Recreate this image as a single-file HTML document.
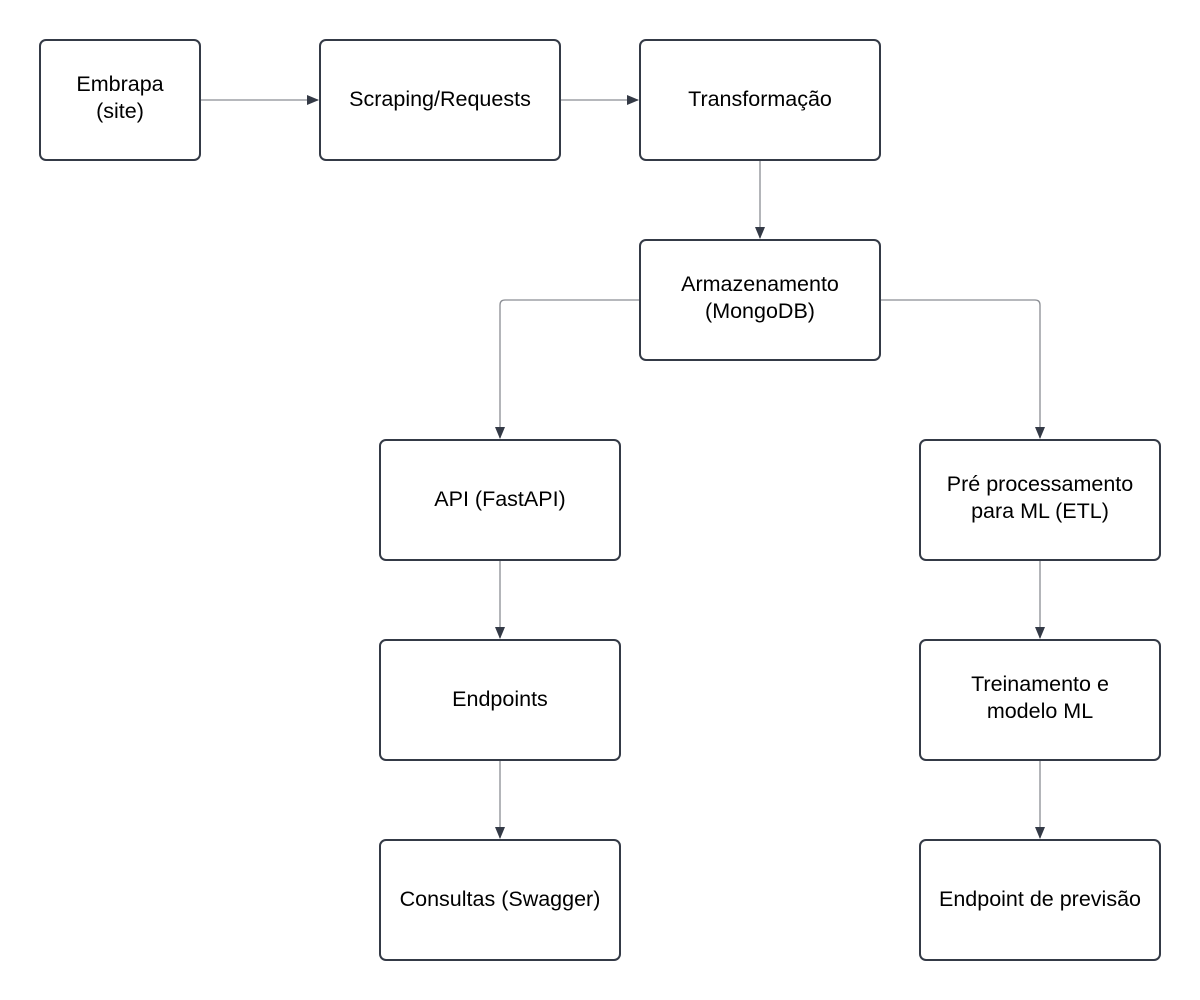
<!DOCTYPE html>
<html><head><meta charset="utf-8"><style>body{margin:0;background:#fff}svg{display:block}</style></head>
<body>
<svg width="1200" height="1000" xmlns="http://www.w3.org/2000/svg" font-family="Liberation Sans, Arial, sans-serif" font-size="21.5" fill="#000">
<defs><marker id="a" markerWidth="12" markerHeight="12" refX="11" refY="5" orient="auto" markerUnits="userSpaceOnUse"><path d="M0,0 L12,5 L0,10 Z" fill="#343a46"/></marker></defs>
<g fill="none" stroke="#8a8d93" stroke-width="1.3">
<path d="M201,100 H318" marker-end="url(#a)"/>
<path d="M561,100 H638" marker-end="url(#a)"/>
<path d="M760,161 V238" marker-end="url(#a)"/>
<path d="M639,300 H505 Q500,300 500,305 V438" marker-end="url(#a)"/>
<path d="M881,300 H1035 Q1040,300 1040,305 V438" marker-end="url(#a)"/>
<path d="M500,561 V638" marker-end="url(#a)"/>
<path d="M500,761 V838" marker-end="url(#a)"/>
<path d="M1040,561 V638" marker-end="url(#a)"/>
<path d="M1040,761 V838" marker-end="url(#a)"/>
</g>
<g fill="#fff" stroke="#343a46" stroke-width="2">
<rect x="40" y="40" width="160" height="120" rx="6"/>
<rect x="320" y="40" width="240" height="120" rx="6"/>
<rect x="640" y="40" width="240" height="120" rx="6"/>
<rect x="640" y="240" width="240" height="120" rx="6"/>
<rect x="380" y="440" width="240" height="120" rx="6"/>
<rect x="380" y="640" width="240" height="120" rx="6"/>
<rect x="380" y="840" width="240" height="120" rx="6"/>
<rect x="920" y="440" width="240" height="120" rx="6"/>
<rect x="920" y="640" width="240" height="120" rx="6"/>
<rect x="920" y="840" width="240" height="120" rx="6"/>
</g>
<g text-anchor="middle">
<text x="120" y="91">Embrapa</text><text x="120" y="118">(site)</text>
<text x="440" y="106">Scraping/Requests</text>
<text x="760" y="106">Transformação</text>
<text x="760" y="291">Armazenamento</text><text x="760" y="318">(MongoDB)</text>
<text x="500" y="506">API (FastAPI)</text>
<text x="500" y="706">Endpoints</text>
<text x="500" y="906">Consultas (Swagger)</text>
<text x="1040" y="491">Pré processamento</text><text x="1040" y="518">para ML (ETL)</text>
<text x="1040" y="691">Treinamento e</text><text x="1040" y="718">modelo ML</text>
<text x="1040" y="906">Endpoint de previsão</text>
</g>
</svg>
</body></html>
